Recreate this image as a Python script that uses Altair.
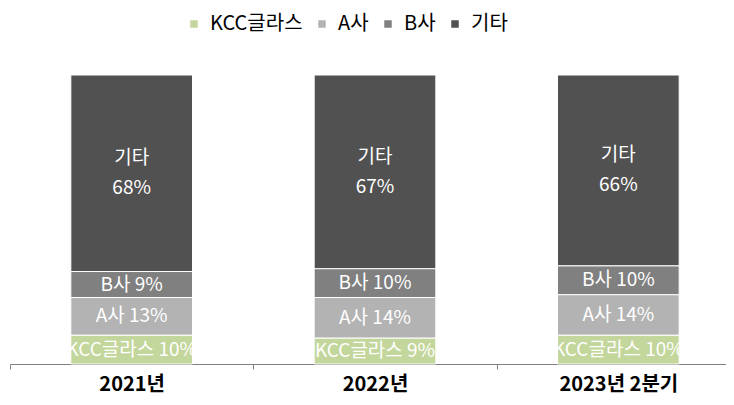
import altair as alt
import pandas as pd

years = ["2021년", "2022년", "2023년 2분기"]
series = ["KCC글라스", "A사", "B사", "기타"]
kcc = [10, 9, 10]
a_co = [13, 14, 14]
b_co = [9, 10, 10]
etc = [68, 67, 66]
colors = ["#C3D69B", "#B3B3B3", "#808080", "#515151"]

rows = []
for i, y in enumerate(years):
    for j, (s, vals) in enumerate(zip(series, [kcc, a_co, b_co, etc])):
        v = vals[i]
        label = f"{s}\n{v}%" if s == "기타" else f"{s} {v}%"
        rows.append({"year": y, "series": s, "value": v, "order": j, "label": label})
df = pd.DataFrame(rows)

FONT = "Noto Sans CJK KR"

base = alt.Chart(df).transform_stack(
    stack="value", groupby=["year"], sort=[alt.SortField("order")], as_=["v0", "v1"]
).transform_calculate(mid="(datum.v0 + datum.v1) / 2")

xscale = alt.Scale(domain=years, paddingInner=0, paddingOuter=0, range=[0, 730])
yscale = alt.Scale(domain=[0, 100], nice=False)

xenc = alt.X(
    "year:N", sort=years, title=None, scale=xscale,
    axis=alt.Axis(
        labelAngle=0, labelFont=FONT, labelFontSize=20, labelFontWeight="bold",
        labelColor="#000000", domainColor="#808080", tickColor="#808080",
        tickSize=5, tickBand="extent", labelPadding=5, domainWidth=1.2,
    ),
)

bars = base.mark_bar(stroke="white", strokeWidth=1, width={"band": 0.5}).encode(
    x=xenc,
    y=alt.Y("v0:Q", scale=yscale, axis=None),
    y2="v1:Q",
    color=alt.Color(
        "series:N", sort=series,
        scale=alt.Scale(domain=series, range=colors),
        legend=alt.Legend(
            title=None, orient="none", direction="horizontal", columns=4,
            legendX=174, legendY=-61, symbolType="square", symbolSize=56,
            symbolStrokeWidth=0, labelFont=FONT, labelFontSize=20,
            labelColor="#000000", columnPadding=9, symbolOffset=0, labelOffset=6,
        ),
    ),
)

texts_single = base.transform_filter("datum.series != '기타'").mark_text(
    color="white", font=FONT, fontSize=19
).encode(
    x=alt.X("year:N", sort=years, scale=xscale),
    y=alt.Y("mid:Q", scale=yscale),
    text="label:N",
)

texts_multi = base.transform_filter("datum.series == '기타'").mark_text(
    color="white", font=FONT, fontSize=19, lineBreak="\n", lineHeight=30, dy=-15
).encode(
    x=alt.X("year:N", sort=years, scale=xscale),
    y=alt.Y("mid:Q", scale=yscale),
    text="label:N",
)

chart = alt.layer(bars, texts_single, texts_multi).properties(
    width=716, height=289,
    autosize=alt.AutoSizeParams(type="none"),
    padding={"top": 67, "left": 2, "right": 0, "bottom": 32},
).configure_view(stroke=None)

chart.save("out.html", embed_options={"renderer": "svg", "actions": False})
